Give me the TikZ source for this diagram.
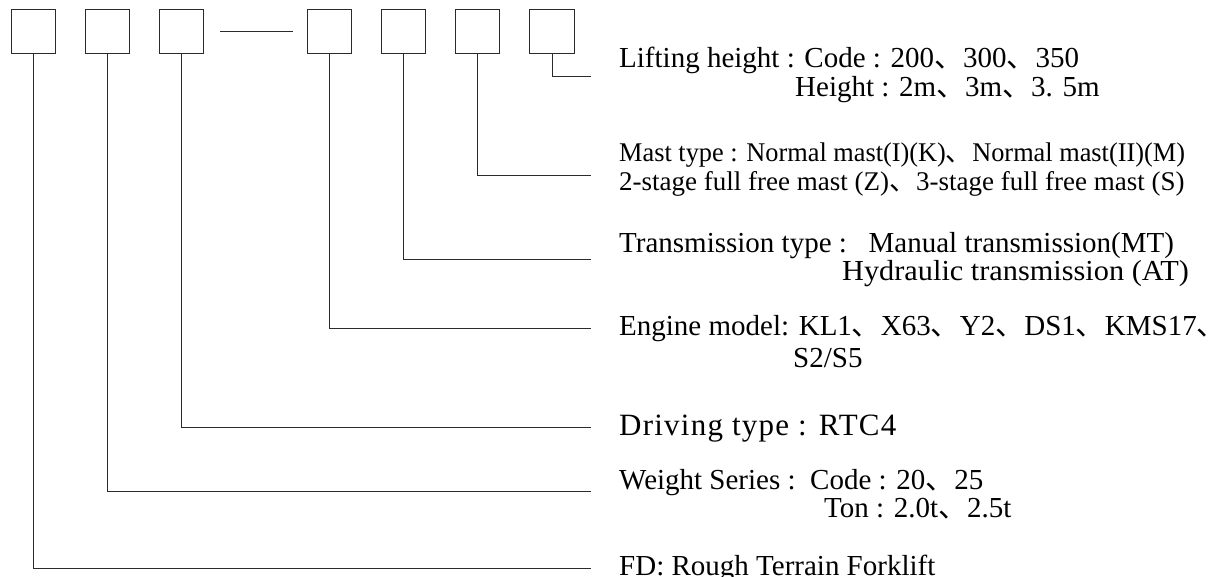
\documentclass[tikz,border=0pt]{standalone}
\usepackage{graphicx}
\usepackage{fontspec}
\setmainfont{Liberation Serif}
\newfontfamily\cjk{Noto Sans CJK SC}
\newfontfamily\spacedfont[LetterSpace=4]{Liberation Serif}
\newcommand{\dun}{{\cjk 、}}
\usetikzlibrary{positioning}
\definecolor{leadGray}{HTML}{2B2B2B}

\begin{document}
\begin{tikzpicture}[x=1pt, y=-1pt,
  codebox/.style={draw=leadGray, line width=1.1pt, minimum size=44.5pt, inner sep=0pt},
  lead/.style={draw=leadGray, line width=0.9pt},
  desc/.style={anchor=base west, inner sep=0pt, font=\fontsize{29}{31}\selectfont}]
  \useasboundingbox (0,0) rectangle (1215,577);
  % code boxes
  \foreach \i/\x in {1/33.3, 2/107.3, 3/181.3, 4/329.5, 5/403.5, 6/477.5, 7/552} {
    \node[codebox] (b\i) at (\x, 31.5) {};
  }
  \draw[lead, line width=1.5pt] (220, 31.5) -- (293, 31.5);
  % line ends
  \foreach \i/\y in {1/568, 2/491, 3/427, 4/328, 5/259, 6/175, 7/76} {
    \coordinate (e\i) at (591, \y);
  }
  % descriptions
  \node[desc] (lift) at (619, 68) {Lifting height : Code : 200\dun 300\dun 350};
  \node[desc] (liftb) at (795, 97) {Height : 2m\dun 3m\dun 3. 5m};
  \node[desc, font=\fontsize{27}{29}\selectfont] (mast) at (619, 162) {\scalebox{0.975}[1]{Mast type : Normal mast(I)(K)\dun Normal mast(II)(M)}};
  \node[desc, font=\fontsize{27}{29}\selectfont] (mastb) at (619, 191) {2-stage full free mast (Z)\dun 3-stage full free mast (S)};
  \node[desc] (trans) at (619, 253) {Transmission type :\hspace{0.75em}Manual transmission(MT)};
  \node[desc] (transb) at (842, 281) {\scalebox{1.045}[1]{Hydraulic transmission (AT)}};
  \node[desc] (eng) at (619, 335) {Engine model: KL1\dun X63\dun Y2\dun DS1\dun KMS17\dun};
  \node[desc] (engb) at (793, 367) {S2/S5};
  \node[desc, font=\fontsize{31}{33}\spacedfont] (drive) at (619, 435) {Driving type : RTC4};
  \node[desc] (weight) at (619, 489) {Weight Series :\hspace{0.5em}Code : 20\dun 25};
  \node[desc] (weightb) at (824, 517) {Ton : 2.0t\dun 2.5t};
  \node[desc] (fd) at (619, 575) {FD: Rough Terrain Forklift};
  % leaders
  \foreach \i in {1,...,7} {
    \draw[lead] (b\i.south) |- (e\i);
  }
\end{tikzpicture}
\end{document}
